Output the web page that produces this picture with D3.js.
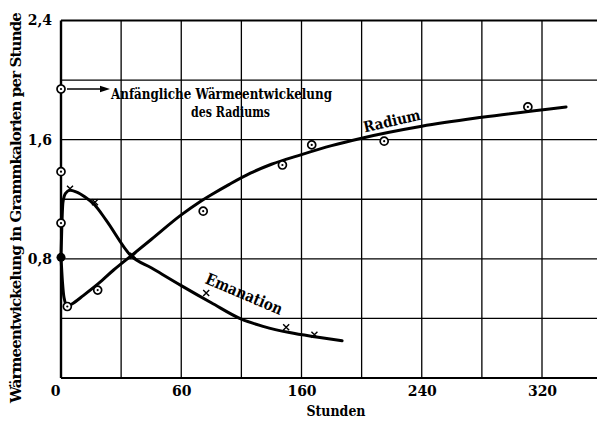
<!DOCTYPE html>
<html><head><meta charset="utf-8">
<script src="https://cdn.jsdelivr.net/npm/d3@7/dist/d3.min.js"></script>
<style>body{margin:0;background:#fff}svg{display:block}text{font-family:"DejaVu Serif",serif;font-weight:bold;fill:#000}</style>
</head><body><svg id="c" width="597" height="421"></svg>
<script>
// Data
const xTickValues = [0, 80, 160, 240, 320];
const xTickLabels = ["0", "60", "160", "240", "320"];
const yTickValues = [0.8, 1.6, 2.4];
const yTickLabels = ["0,8", "1,6", "2,4"];
const xGridValues = [0, 40, 80, 120, 160, 200, 240, 280, 320];
const yGridValues = [0.4, 0.8, 1.2, 1.6, 2.0];

const radiumCurveHours  = [0, 1, 2, 4.2, 7, 15, 25, 35, 46.6, 60, 80, 92, 100, 112, 126, 140, 160, 180, 200, 240, 280, 336];
const radiumCurveValues = [0.81, 0.64, 0.54, 0.48, 0.495, 0.555, 0.635, 0.725, 0.82, 0.93, 1.095, 1.18, 1.23, 1.30, 1.375, 1.435, 1.50, 1.56, 1.61, 1.69, 1.75, 1.82];
const emanationCurveHours  = [0, 0.5, 1.3, 3, 6, 10, 16, 22.6, 30, 46.6, 60, 80, 100, 120, 135, 152, 170, 187];
const emanationCurveValues = [0.81, 1.0, 1.18, 1.24, 1.26, 1.25, 1.215, 1.16, 1.06, 0.82, 0.74, 0.62, 0.505, 0.395, 0.345, 0.305, 0.275, 0.25];

const radiumPointHours  = [0, 0, 0, 4.2, 24.4, 94.6, 147.3, 166.8, 215, 310.6];
const radiumPointValues = [1.94, 1.385, 1.04, 0.48, 0.59, 1.12, 1.43, 1.565, 1.59, 1.82];
const filledPointHours  = [0];
const filledPointValues = [0.81];
const emanationPointHours  = [6, 22.6, 48, 96.6, 149.8, 168.6];
const emanationPointValues = [1.27, 1.18, 0.82, 0.57, 0.34, 0.29];

const svg = d3.select("#c");
const x = d3.scaleLinear().domain([0, 320]).range([61, 542]);
const y = d3.scaleLinear().domain([0, 2.4]).range([378, 20.5]);
const xRight = 597;

// grid
const g = svg.append("g").attr("stroke", "#000").attr("fill", "none");
g.selectAll(".vg").data(xGridValues.slice(1)).join("line")
  .attr("x1", d => x(d)).attr("x2", d => x(d)).attr("y1", y(0)).attr("y2", y(2.4)).attr("stroke-width", 1.3);
g.selectAll(".hg").data(yGridValues).join("line")
  .attr("x1", x(0)).attr("x2", xRight).attr("y1", d => y(d)).attr("y2", d => y(d)).attr("stroke-width", 1.3);
// frame
g.append("line").attr("x1", x(0)).attr("x2", xRight).attr("y1", y(2.4)).attr("y2", y(2.4)).attr("stroke-width", 2.2);
g.append("line").attr("x1", x(0)).attr("x2", xRight).attr("y1", y(0)).attr("y2", y(0)).attr("stroke-width", 2.2);
g.append("line").attr("x1", x(0)).attr("x2", x(0)).attr("y1", y(0)).attr("y2", y(2.4)).attr("stroke-width", 2.4);

// axes (labels only)
const xAxis = d3.axisBottom(x).tickValues(xTickValues).tickSize(0)
  .tickFormat((d, i) => xTickLabels[i]);
const xa = svg.append("g").attr("transform", `translate(0,${y(0)})`).call(xAxis);
xa.select(".domain").remove();
xa.selectAll("text").attr("font-size", 14).attr("dy", "1.05em")
  .attr("font-family", "DejaVu Serif").attr("font-weight", "bold").attr("fill", "#000")
  .attr("dx", d => d === 0 ? -6 : 0);
const yAxis = d3.axisLeft(y).tickValues(yTickValues).tickSize(0)
  .tickFormat((d, i) => yTickLabels[i]);
const ya = svg.append("g").attr("transform", `translate(${x(0) - 9},0)`).call(yAxis);
ya.select(".domain").remove();
ya.selectAll("text").attr("font-size", 14).attr("x", 0)
  .attr("font-family", "DejaVu Serif").attr("font-weight", "bold").attr("fill", "#000");

// curves
const line = d3.line().curve(d3.curveMonotoneX);
svg.append("path").attr("d", line(radiumCurveHours.map((h, i) => [x(h), y(radiumCurveValues[i])])))
  .attr("fill", "none").attr("stroke", "#000").attr("stroke-width", 3).attr("stroke-linecap", "round");
svg.append("path").attr("d", line(emanationCurveHours.map((h, i) => [x(h), y(emanationCurveValues[i])])))
  .attr("fill", "none").attr("stroke", "#000").attr("stroke-width", 3).attr("stroke-linecap", "round");

// radium points
const rp = svg.append("g").selectAll("g").data(radiumPointHours.map((h, i) => [h, radiumPointValues[i]])).join("g")
  .attr("transform", d => `translate(${x(d[0])},${y(d[1])})`);
rp.append("circle").attr("r", 4).attr("fill", "#fff").attr("stroke", "#000").attr("stroke-width", 1.7);
rp.append("circle").attr("r", 1.1).attr("fill", "#000");
svg.append("g").selectAll("circle").data(filledPointHours.map((h, i) => [h, filledPointValues[i]])).join("circle")
  .attr("cx", d => x(d[0])).attr("cy", d => y(d[1])).attr("r", 4.5).attr("fill", "#000");

// emanation crosses
svg.append("g").attr("stroke", "#000").attr("stroke-width", 1.4)
  .selectAll("path").data(emanationPointHours.map((h, i) => [h, emanationPointValues[i]])).join("path")
  .attr("d", d => { const cx = x(d[0]), cy = y(d[1]), s = 3;
    return `M${cx - s},${cy - s}L${cx + s},${cy + s}M${cx - s},${cy + s}L${cx + s},${cy - s}`; });

// arrow + annotation
const ay = y(1.94);
svg.append("line").attr("x1", x(0) + 6).attr("x2", 103).attr("y1", ay).attr("y2", ay)
  .attr("stroke", "#000").attr("stroke-width", 1.4);
svg.append("path").attr("d", `M110,${ay}L100,${ay - 3.2}L100,${ay + 3.2}Z`).attr("fill", "#000");
svg.append("text").attr("x", 111).attr("y", 98.5).attr("font-size", 15.5)
  .attr("textLength", 221).attr("lengthAdjust", "spacingAndGlyphs").text("Anfängliche Wärmeentwickelung");
svg.append("text").attr("x", 191).attr("y", 117).attr("font-size", 15.5)
  .attr("textLength", 79).attr("lengthAdjust", "spacingAndGlyphs").text("des Radiums");

// curve labels
svg.append("text").attr("transform", "translate(393,126) rotate(-13)").attr("text-anchor", "middle")
  .attr("font-size", 15).attr("textLength", 58).attr("lengthAdjust", "spacingAndGlyphs").text("Radium");
svg.append("text").attr("transform", "translate(242,299) rotate(23)").attr("text-anchor", "middle")
  .attr("font-size", 16).attr("textLength", 82).attr("lengthAdjust", "spacingAndGlyphs").text("Emanation");

// axis titles
const yt = svg.append("text").attr("transform", "translate(20.5,208) rotate(-90)").attr("text-anchor", "middle")
  .attr("font-family", "Liberation Serif").attr("font-size", 15).attr("letter-spacing", 0)
  .text("Wärmeentwickelung in Grammkalorien per Stunde");
const natural = yt.node().getComputedTextLength();
const extra = (390 - natural) / 45;
yt.attr("letter-spacing", extra.toFixed(2));
svg.append("text").attr("x", 336).attr("y", 416).attr("text-anchor", "middle")
  .attr("font-size", 15).attr("textLength", 59).attr("lengthAdjust", "spacingAndGlyphs").text("Stunden");
</script></body></html>
